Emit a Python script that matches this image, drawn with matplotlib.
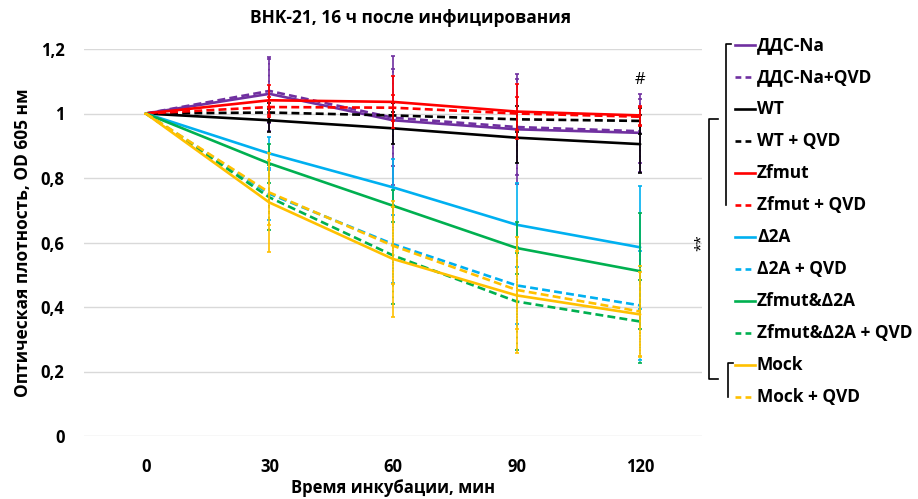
import numpy as np
import matplotlib.pyplot as plt
from matplotlib.lines import Line2D

plt.rcParams['font.family'] = ['Open Sans', 'DejaVu Sans']

# time points, min
times = [0, 30, 60, 90, 120]
tick_labels = ['0', '30', '60', '90', '120']

labels = ['ДДС-Na', 'ДДС-Na+QVD', 'WT', 'WT + QVD', 'Zfmut', 'Zfmut + QVD',
          'Δ2A', 'Δ2A + QVD', 'Zfmut&Δ2A', 'Zfmut&Δ2A + QVD', 'Mock', 'Mock + QVD']

sds = [1, 1.061, 0.979, 0.951, 0.940]
sds_qvd = [1, 1.070, 0.987, 0.958, 0.945]
wt = [1, 0.979, 0.954, 0.925, 0.905]
wt_qvd = [1, 1.003, 0.994, 0.982, 0.977]
zf = [1, 1.041, 1.036, 1.006, 0.994]
zf_qvd = [1, 1.020, 1.018, 1.000, 0.990]
d2a = [1, 0.876, 0.771, 0.655, 0.585]
d2a_qvd = [1, 0.751, 0.595, 0.467, 0.405]
zfd2a = [1, 0.845, 0.714, 0.583, 0.511]
zfd2a_qvd = [1, 0.740, 0.560, 0.417, 0.355]
mock = [1, 0.724, 0.549, 0.436, 0.377]
mock_qvd = [1, 0.755, 0.590, 0.453, 0.386]

# error bars (sd)
sds_err = [0, 0.115, 0.20, 0.17, 0.12]
sds_qvd_err = [0, 0.10, 0.15, 0.15, 0.10]
wt_err = [0, 0.035, 0.05, 0.08, 0.09]
wt_qvd_err = [0, 0.03, 0.04, 0.04, 0.04]
zf_err = [0, 0.046, 0.08, 0.085, 0.03]
zf_qvd_err = [0, 0.03, 0.04, 0.05, 0.03]
d2a_err = [0, 0.05, 0.087, 0.13, 0.19]
d2a_qvd_err = [0, 0.08, 0.12, 0.12, 0.17]
zfd2a_err = [0, 0.06, 0.05, 0.08, 0.18]
zfd2a_qvd_err = [0, 0.10, 0.15, 0.15, 0.13]
mock_err = [0, 0.155, 0.18, 0.18, 0.13]
mock_qvd_err = [0, 0.10, 0.12, 0.12, 0.14]

values = [sds, sds_qvd, wt, wt_qvd, zf, zf_qvd, d2a, d2a_qvd, zfd2a, zfd2a_qvd, mock, mock_qvd]
errors = [sds_err, sds_qvd_err, wt_err, wt_qvd_err, zf_err, zf_qvd_err,
          d2a_err, d2a_qvd_err, zfd2a_err, zfd2a_qvd_err, mock_err, mock_qvd_err]
colors = ['#7030A0', '#7030A0', '#000000', '#000000', '#FF0000', '#FF0000',
          '#00B0F0', '#00B0F0', '#00B050', '#00B050', '#FFC000', '#FFC000']

fig = plt.figure(figsize=(9.18, 4.99), dpi=100)
ax = fig.add_axes([84/918, 1-436/499, (702-84)/918, (436-49)/499])

x = np.arange(len(times))
for i, (v, e, c) in enumerate(zip(values, errors, colors)):
    dashed = i % 2 == 1
    eb = ax.errorbar(x, v, yerr=e, fmt='none', ecolor=c, elinewidth=1.2,
                     capsize=1.6, capthick=1.2, zorder=2 + i * 0.1)
    if dashed:
        eb[2][0].set_linestyle((0, (1, 2.5)))
    ax.plot(x, v, color=c, lw=1.9, solid_capstyle='round',
            linestyle=(0, (3, 1.6)) if dashed else '-', zorder=2.05 + i * 0.1)

ax.set_xlim(-0.5, 4.5)
ax.set_ylim(0, 1.2)
ax.set_xticks(x)
ax.set_xticklabels(tick_labels)
ax.set_yticks([0, 0.2, 0.4, 0.6, 0.8, 1.0, 1.2])
ax.set_yticklabels(['0', '0,2', '0,4', '0,6', '0,8', '1', '1,2'])
ax.tick_params(length=0, labelsize=12, pad=14)
for t in ax.get_xticklabels() + ax.get_yticklabels():
    t.set_fontweight('bold')
ax.tick_params(axis='x', pad=16)
ax.grid(axis='y', color='#D9D9D9', lw=1)
ax.set_axisbelow(True)
for s in ax.spines.values():
    s.set_visible(False)

ax.set_xlabel('Время инкубации, мин', fontsize=12, fontweight='bold', labelpad=2)
ax.set_ylabel('Оптическая плотность, OD 605 нм', fontsize=12.5, fontweight='bold', labelpad=6)
fig.text(411/918, 1-18/499, 'BHK-21, 16 ч после инфицирования', ha='center', va='center',
         fontsize=12.5, fontweight='bold')

ax.text(4, 1.105, '#', ha='center', va='center', fontsize=12)

# legend drawn by hand
def fx(px):
    return px / 918

def fy(py):
    return 1 - py / 499

for i, (lab, c) in enumerate(zip(labels, colors)):
    yy = 45 + i * 32
    ls = (0, (2.2, 1.6)) if i % 2 == 1 else '-'
    fig.add_artist(Line2D([fx(735), fx(755)], [fy(yy), fy(yy)], color=c, lw=1.9, linestyle=ls))
    fig.text(fx(757), fy(yy), lab, ha='left', va='center', fontsize=12.5, fontweight='bold')

# significance brackets
br = dict(color='black', lw=1.2)
fig.add_artist(Line2D([fx(726), fx(726), fx(731)], [fy(205), fy(44), fy(44)], **br))
fig.add_artist(Line2D([fx(718), fx(709), fx(709), fx(718)], [fy(119), fy(119), fy(379), fy(379)], **br))
fig.add_artist(Line2D([fx(728), fx(728), fx(733)], [fy(397), fy(363), fy(363)], **br))
fig.text(fx(701), fy(243), '**', ha='center', va='center', rotation=90, fontsize=11)

fig.savefig('out.png', dpi=100)
